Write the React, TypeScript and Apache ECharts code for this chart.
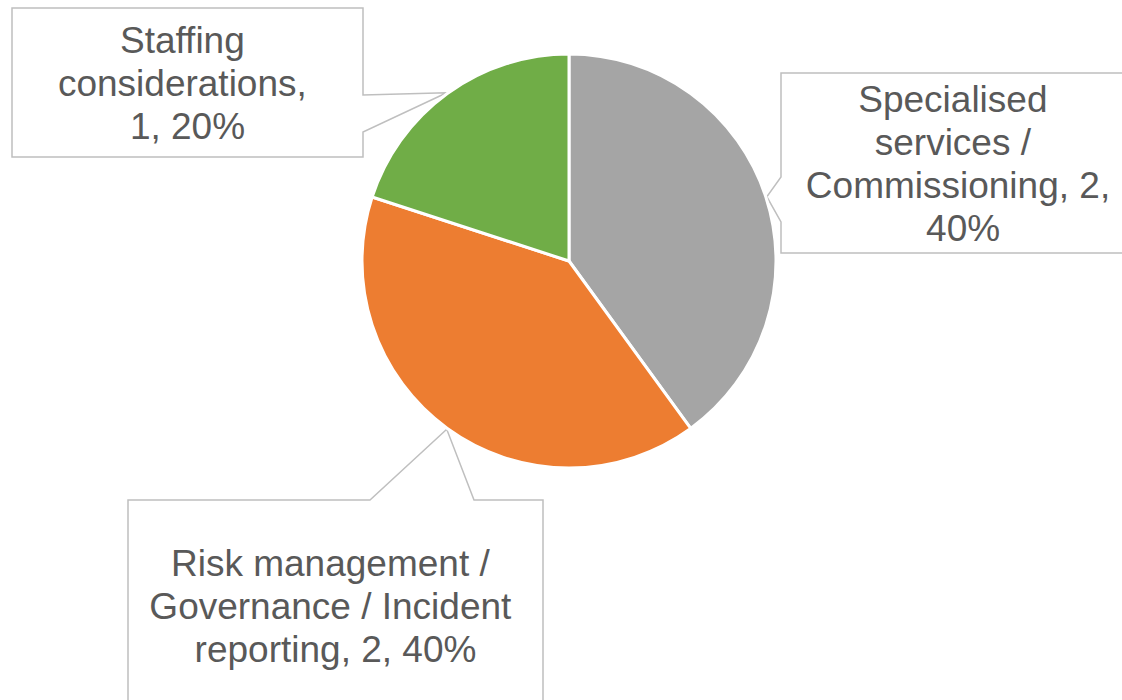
import React, { useEffect, useRef } from "react";
import * as echarts from "echarts";

const categories = [
  "Specialised services / Commissioning",
  "Risk management / Governance / Incident reporting",
  "Staffing considerations",
];
const values = [2, 2, 1];
const colors = ["#A5A5A5", "#ED7D31", "#70AD47"];

// layout (pixels)
const CENTER = [569, 261];
const RADIUS = 207;
const labelWidths = [312, 384, 262];
// callout boxes: [left, top, right, bottom], wedge side and base positions
const boxes = [
  { rect: [781, 73, 1135, 253], side: "left", base: [177, 222] },
  { rect: [128, 500, 543, 710], side: "top", base: [370, 474] },
  { rect: [12, 8, 363, 157], side: "right", base: [95, 132] },
];

function tipPoints(): number[][] {
  const total = values.reduce((a, b) => a + b, 0);
  let acc = 0;
  return values.map((v) => {
    const mid = (acc + v / 2) / total;
    acc += v;
    const ang = mid * Math.PI * 2;
    return [CENTER[0] + (RADIUS + 1) * Math.sin(ang), CENTER[1] - (RADIUS + 1) * Math.cos(ang)];
  });
}

function calloutPolygon(i: number, tip: number[]): number[][] {
  const b = boxes[i];
  const [l, t, r, bt] = b.rect;
  if (b.side === "left") {
    return [[l, t], [r, t], [r, bt], [l, bt], [l, b.base[1]], tip, [l, b.base[0]]];
  }
  if (b.side === "right") {
    return [[l, t], [r, t], [r, b.base[0]], tip, [r, b.base[1]], [r, bt], [l, bt]];
  }
  return [[l, t], [b.base[0], t], tip, [b.base[1], t], [r, t], [r, bt], [l, bt]];
}

export default function App() {
  const ref = useRef<HTMLDivElement>(null);
  useEffect(() => {
    document.body.style.margin = "0";
    const chart = echarts.init(ref.current!, null, { renderer: "svg" });
    const tips = tipPoints();
    const graphics = tips.map((tip, i) => ({
      type: "polygon",
      z: 0,
      shape: { points: calloutPolygon(i, tip) },
      style: { fill: "#FFFFFF", stroke: "#BFBFBF", lineWidth: 1.5 },
    }));
    chart.setOption({
      animation: false,
      backgroundColor: "#FFFFFF",
      graphic: graphics,
      series: [
        {
          type: "pie",
          center: CENTER,
          radius: RADIUS,
          startAngle: 90,
          clockwise: true,
          z: 5,
          itemStyle: { borderColor: "#FFFFFF", borderWidth: 3 },
          emphasis: { disabled: true },
          data: categories.map((name, i) => ({
            name,
            value: values[i],
            itemStyle: { color: colors[i] },
            label: { width: labelWidths[i] },
          })),
          label: {
            show: true,
            position: "outside",
            formatter: (p: any) => `${p.name}, ${p.value}, ${Math.round(p.percent)}%`,
            color: "#595959",
            fontFamily: "Liberation Sans, Arial, sans-serif",
            fontSize: 37,
            lineHeight: 43,
            overflow: "break",
            align: "center",
          },
          labelLine: { show: false },
          labelLayout: (params: any) => {
            const r = boxes[params.dataIndex].rect;
            return {
              x: (r[0] + r[2]) / 2,
              y: (r[1] + r[3]) / 2 + 1,
              align: "center",
              verticalAlign: "middle",
              hideOverlap: false,
              moveOverlap: false,
            };
          },
        },
      ],
    });
    return () => chart.dispose();
  }, []);
  return (
    <div
      ref={ref}
      style={{ position: "fixed", left: 0, top: 0, width: 1122, height: 700 }}
    />
  );
}
